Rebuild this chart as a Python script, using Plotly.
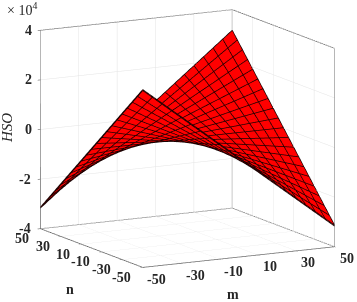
import plotly.graph_objects as go

m_vals = [-50,-45,-40,-35,-30,-25,-20,-15,-10,-5,0,5,10,15,20,25,30,35,40,45,50]
n_vals = [-50,-45,-40,-35,-30,-25,-20,-15,-10,-5,0,5,10,15,20,25,30,35,40,45,50]
# HSO values, in units of 10^4, one row per n value
hso = [
[3.15,2.835,2.52,2.205,1.89,1.575,1.26,.945,.63,.315,0,-.315,-.63,-.945,-1.26,-1.575,-1.89,-2.205,-2.52,-2.835,-3.15],
[2.835,2.552,2.268,1.985,1.701,1.418,1.134,.851,.567,.284,0,-.284,-.567,-.851,-1.134,-1.418,-1.701,-1.985,-2.268,-2.552,-2.835],
[2.52,2.268,2.016,1.764,1.512,1.26,1.008,.756,.504,.252,0,-.252,-.504,-.756,-1.008,-1.26,-1.512,-1.764,-2.016,-2.268,-2.52],
[2.205,1.985,1.764,1.544,1.323,1.103,.882,.662,.441,.221,0,-.221,-.441,-.662,-.882,-1.103,-1.323,-1.544,-1.764,-1.985,-2.205],
[1.89,1.701,1.512,1.323,1.134,.945,.756,.567,.378,.189,0,-.189,-.378,-.567,-.756,-.945,-1.134,-1.323,-1.512,-1.701,-1.89],
[1.575,1.418,1.26,1.103,.945,.788,.63,.473,.315,.158,0,-.158,-.315,-.473,-.63,-.788,-.945,-1.103,-1.26,-1.418,-1.575],
[1.26,1.134,1.008,.882,.756,.63,.504,.378,.252,.126,0,-.126,-.252,-.378,-.504,-.63,-.756,-.882,-1.008,-1.134,-1.26],
[.945,.851,.756,.662,.567,.473,.378,.284,.189,.095,0,-.095,-.189,-.284,-.378,-.473,-.567,-.662,-.756,-.851,-.945],
[.63,.567,.504,.441,.378,.315,.252,.189,.126,.063,0,-.063,-.126,-.189,-.252,-.315,-.378,-.441,-.504,-.567,-.63],
[.315,.284,.252,.221,.189,.158,.126,.095,.063,.032,0,-.032,-.063,-.095,-.126,-.158,-.189,-.221,-.252,-.284,-.315],
[0,0,0,0,0,0,0,0,0,0,0,0,0,0,0,0,0,0,0,0,0],
[-.315,-.284,-.252,-.221,-.189,-.158,-.126,-.095,-.063,-.032,0,.032,.063,.095,.126,.158,.189,.221,.252,.284,.315],
[-.63,-.567,-.504,-.441,-.378,-.315,-.252,-.189,-.126,-.063,0,.063,.126,.189,.252,.315,.378,.441,.504,.567,.63],
[-.945,-.851,-.756,-.662,-.567,-.473,-.378,-.284,-.189,-.095,0,.095,.189,.284,.378,.473,.567,.662,.756,.851,.945],
[-1.26,-1.134,-1.008,-.882,-.756,-.63,-.504,-.378,-.252,-.126,0,.126,.252,.378,.504,.63,.756,.882,1.008,1.134,1.26],
[-1.575,-1.418,-1.26,-1.103,-.945,-.788,-.63,-.473,-.315,-.158,0,.158,.315,.473,.63,.788,.945,1.103,1.26,1.418,1.575],
[-1.89,-1.701,-1.512,-1.323,-1.134,-.945,-.756,-.567,-.378,-.189,0,.189,.378,.567,.756,.945,1.134,1.323,1.512,1.701,1.89],
[-2.205,-1.985,-1.764,-1.544,-1.323,-1.103,-.882,-.662,-.441,-.221,0,.221,.441,.662,.882,1.103,1.323,1.544,1.764,1.985,2.205],
[-2.52,-2.268,-2.016,-1.764,-1.512,-1.26,-1.008,-.756,-.504,-.252,0,.252,.504,.756,1.008,1.26,1.512,1.764,2.016,2.268,2.52],
[-2.835,-2.552,-2.268,-1.985,-1.701,-1.418,-1.134,-.851,-.567,-.284,0,.284,.567,.851,1.134,1.418,1.701,1.985,2.268,2.552,2.835],
[-3.15,-2.835,-2.52,-2.205,-1.89,-1.575,-1.26,-.945,-.63,-.315,0,.315,.63,.945,1.26,1.575,1.89,2.205,2.52,2.835,3.15],
]
m_ticks = [-50,-30,-10,10,30,50]
n_ticks = [-50,-30,-10,10,30,50]
z_ticks = [-4,-2,0,2,4]

m0, m1, n0, n1, z0, z1 = -50, 50, -50, 50, -4, 4
line_c = "#555555"
W, H = 357, 302
fig = go.Figure()
fig.add_trace(go.Surface(
    x=m_vals, y=n_vals, z=hso,
    colorscale=[[0, "#ff0000"], [1, "#ff0000"]], showscale=False,
    lighting=dict(ambient=1, diffuse=0, specular=0, roughness=1, fresnel=0),
    hoverinfo="skip",
))
# grid lines drawn a hair above and below the sheet so the depth test keeps them visible
for lift in (0.02, -0.02):
    mx, my, mz = [], [], []
    for j, n in enumerate(n_vals):
        for i, m in enumerate(m_vals):
            mx.append(m); my.append(n); mz.append(hso[j][i] + lift)
        mx.append(None); my.append(None); mz.append(None)
    for i, m in enumerate(m_vals):
        for j, n in enumerate(n_vals):
            mx.append(m); my.append(n); mz.append(hso[j][i] + lift)
        mx.append(None); my.append(None); mz.append(None)
    fig.add_trace(go.Scatter3d(x=mx, y=my, z=mz, mode="lines",
                               line=dict(color="#1a0000", width=1.5),
                               showlegend=False, hoverinfo="skip"))
frame = [
    ([m0, m0], [n1, n1], [z0, z1]),
    ([m0, m1], [n1, n1], [z1, z1]),
    ([m1, m1], [n1, n0], [z1, z1]),
    ([m1, m1], [n1, n1], [z0, z1]),
    ([m1, m1], [n0, n0], [z0, z1]),
    ([m0, m1], [n1, n1], [z0, z0]),
    ([m1, m1], [n1, n0], [z0, z0]),
    ([m0, m1], [n0, n0], [z0, z0]),
    ([m0, m0], [n1, n0], [z0, z0]),
]
for xs, ys, zs in frame:
    fig.add_trace(go.Scatter3d(x=xs, y=ys, z=zs, mode="lines",
                               line=dict(color=line_c, width=1.5),
                               showlegend=False, hoverinfo="skip"))

axis = dict(showbackground=False, showline=False, zeroline=False, showspikes=False,
            gridcolor="#e4e4e4", gridwidth=1, ticks="outside", ticklen=3,
            tickcolor="#444444", showticklabels=False, title=dict(text=""))
lab = dict(family="Liberation Serif", size=14, color="#262626")
scene_ann = []
for v in z_ticks:
    scene_ann.append(dict(x=m0, y=n1, z=v, text=f"<b>{v}</b>", showarrow=False, font=lab,
                          xshift=-12 if v >= 0 else -15, yshift=0))
for v in n_ticks:
    scene_ann.append(dict(x=m0, y=v, z=z0, text=f"<b>{v}</b>", showarrow=False, font=lab,
                          xshift=-18 if v > 0 else -21, yshift=-10))
for v in m_ticks:
    scene_ann.append(dict(x=v, y=n0, z=z0, text=f"<b>{v}</b>", showarrow=False, font=lab,
                          xshift=12 if v > 0 else 14, yshift=-12))
fig.update_layout(
    width=W, height=H, margin=dict(l=0, r=0, t=0, b=0),
    paper_bgcolor="white", showlegend=False,
    scene=dict(
        domain=dict(x=[0.05, 1], y=[0.083, 1]),
        xaxis=dict(axis, range=[m0, m1], tickvals=m_ticks),
        yaxis=dict(axis, range=[n0, n1], tickvals=n_ticks),
        zaxis=dict(axis, range=[z0, z1], tickvals=z_ticks),
        aspectmode="manual", aspectratio=dict(x=1.57, y=1.57, z=1.463),
        camera=dict(projection=dict(type="orthographic"),
                    up=dict(x=0, y=0, z=1),
                    center=dict(x=0, y=0, z=0),
                    eye=dict(x=-0.8, y=-1.5, z=0.35)),
        annotations=scene_ann,
    ),
    annotations=[
        dict(text="<i>HSO</i>", x=7/W, y=1-128/H, xref="paper", yref="paper", showarrow=False, textangle=-90,
             font=dict(family="Liberation Serif", size=15, color="#262626"), xanchor="center", yanchor="middle"),
        dict(text="× 10<sup>4</sup>", x=22/W, y=1-9/H, xref="paper", yref="paper", showarrow=False,
             font=dict(family="Liberation Serif", size=14, color="#262626"), xanchor="center", yanchor="middle"),
        dict(text="<b>n</b>", x=70/W, y=1-289/H, xref="paper", yref="paper", showarrow=False,
             font=dict(family="Liberation Serif", size=14, color="#262626"), xanchor="center", yanchor="middle"),
        dict(text="<b>m</b>", x=233/W, y=1-294/H, xref="paper", yref="paper", showarrow=False,
             font=dict(family="Liberation Serif", size=14, color="#262626"), xanchor="center", yanchor="middle"),
    ],
)
fig.write_html("out.html", config=dict(displayModeBar=False),
               post_script="document.body.style.margin='0';")
